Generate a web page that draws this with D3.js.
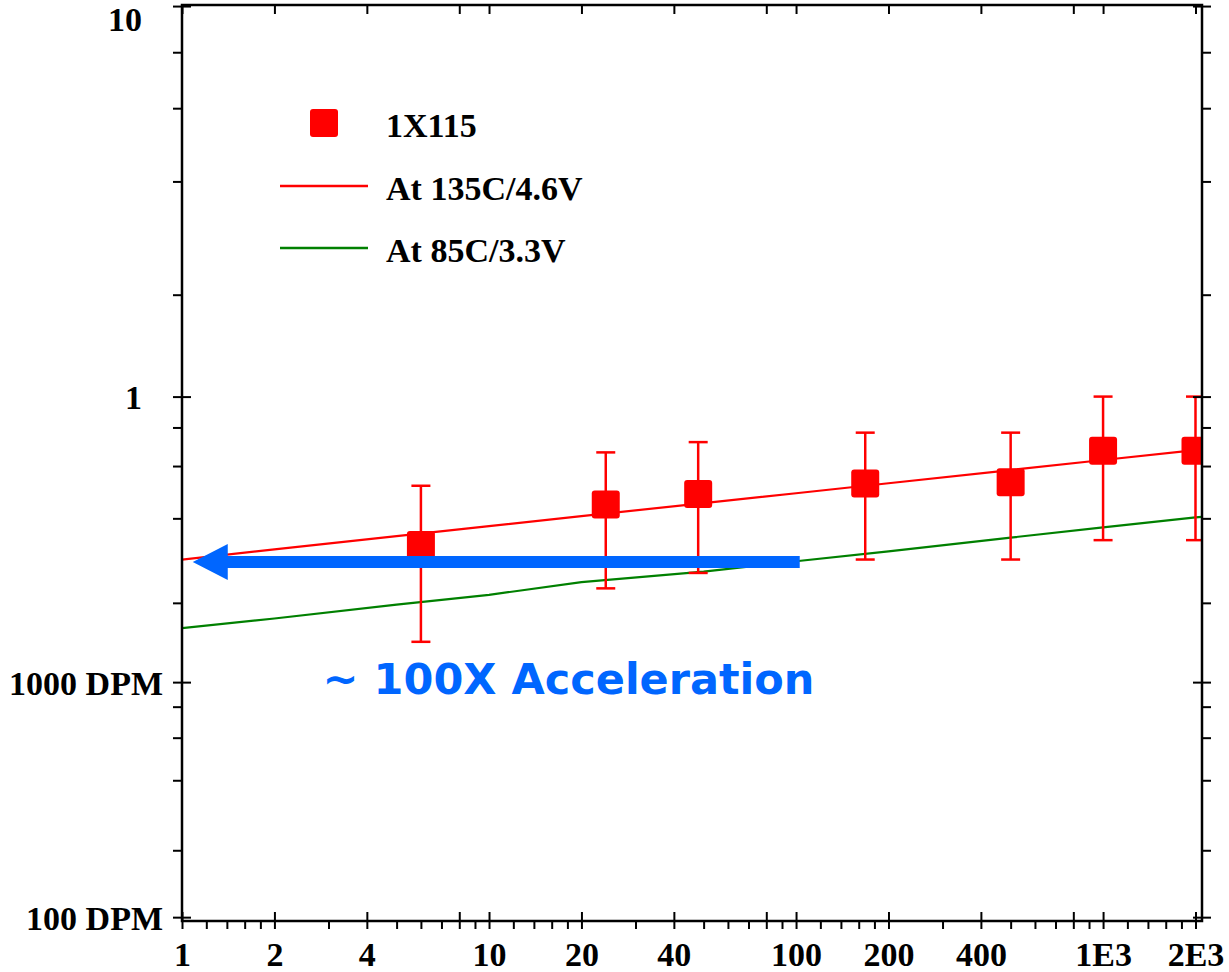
<!DOCTYPE html>
<html>
<head>
<meta charset="utf-8">
<script src="https://cdn.jsdelivr.net/npm/d3@7"></script>
<style>
  body { margin: 0; background: #fff; }
  svg { display: block; }
</style>
</head>
<body>
<script>
const w = 1229;
const h = 972;

// read points (hours, cumulative % fail)
const hours = [6, 24, 48, 168, 500, 1000, 2000];
const pctFail = [0.323, 0.446, 0.484, 0.525, 0.53, 0.673, 0.673];
const pctUpper = [0.516, 0.665, 0.718, 0.77, 0.77, 1.0, 1.0];
const pctLower = [0.143, 0.226, 0.257, 0.287, 0.287, 0.336, 0.336];

// fitted lognormal lines
const fitHours = [1, 2, 5, 10, 20, 50, 100, 200, 500, 1000, 2000, 2100];
const fit135 = [0.287, 0.312, 0.347, 0.376, 0.407, 0.451, 0.487, 0.526, 0.582, 0.628, 0.676, 0.68];
const fit85 = [0.161, 0.175, 0.197, 0.214, 0.238, 0.26, 0.283, 0.307, 0.343, 0.372, 0.403, 0.405];

// axes
const xMajor = [1, 2, 4, 8, 10, 20, 40, 80, 100, 200, 400, 800, 1000, 2000];
const xMinor = [1.2, 1.4, 1.6, 1.8, 3, 5, 6, 7, 9, 12, 14, 16, 18, 30, 50, 60, 70, 90,
  120, 140, 160, 180, 300, 500, 600, 700, 900, 1200, 1400, 1600, 1800];
const xLabelTicks = [1, 2, 4, 10, 20, 40, 100, 200, 400, 1000, 2000];
const xLabels = ["1", "2", "4", "10", "20", "40", "100", "200", "400", "1E3", "2E3"];
const yLabelTicks = [10, 1, 0.1, 0.01];
const yLabels = ["10", "1", "1000 DPM", "100 DPM"];
const yMinor = [8, 6, 4, 2, 0.8, 0.6, 0.4, 0.2, 0.08, 0.06, 0.04, 0.02];

const legendNames = ["1X115", "At 135C/4.6V", "At 85C/3.3V"];
const arrowHours = [102.8, 1.084];
const arrowPct = 0.281;
const noteText = "~ 100X Acceleration";
const notePos = [2.87, 0.09];

// inverse normal cdf (Acklam)
function probit(p) {
  const a = [-3.969683028665376e+01, 2.209460984245205e+02, -2.759285104469687e+02,
    1.383577518672690e+02, -3.066479806614716e+01, 2.506628277459239e+00];
  const b = [-5.447609879822406e+01, 1.615858368580409e+02, -1.556989798598866e+02,
    6.680131188771972e+01, -1.328068155288572e+01];
  const c = [-7.784894002430293e-03, -3.223964580411365e-01, -2.400758277161838e+00,
    -2.549732539343734e+00, 4.374664141464968e+00, 2.938163982698783e+00];
  const d = [7.784695709041462e-03, 3.224671290700398e-01, 2.445134137142996e+00,
    3.754408661907416e+00];
  const pl = 0.02425;
  if (p < pl) {
    const q = Math.sqrt(-2 * Math.log(p));
    return (((((c[0] * q + c[1]) * q + c[2]) * q + c[3]) * q + c[4]) * q + c[5]) /
      ((((d[0] * q + d[1]) * q + d[2]) * q + d[3]) * q + 1);
  }
  if (p <= 1 - pl) {
    const q = p - 0.5, r = q * q;
    return (((((a[0] * r + a[1]) * r + a[2]) * r + a[3]) * r + a[4]) * r + a[5]) * q /
      (((((b[0] * r + b[1]) * r + b[2]) * r + b[3]) * r + b[4]) * r + 1);
  }
  const q = Math.sqrt(-2 * Math.log(1 - p));
  return -(((((c[0] * q + c[1]) * q + c[2]) * q + c[3]) * q + c[4]) * q + c[5]) /
    ((((d[0] * q + d[1]) * q + d[2]) * q + d[3]) * q + 1);
}
const z = pct => probit(pct / 100);

const pLeft = 182, pRight = 1202, pTop = 5, pBottom = 921;

const xScale = d3.scaleLog().domain([1, 2100]).range([pLeft, pRight]);
const zScale = d3.scaleLinear().domain([z(0.0096), z(10.05)]).range([pBottom, pTop]);
const yScale = pct => zScale(z(pct));

const svg = d3.select("body").append("svg")
  .attr("width", w)
  .attr("height", h)
  .style("background", "#fff");

svg.append("defs").append("clipPath").attr("id", "plot")
  .append("rect")
  .attr("x", pLeft).attr("y", pTop)
  .attr("width", pRight - pLeft).attr("height", pBottom - pTop);

const plot = svg.append("g").attr("clip-path", "url(#plot)");

const line = d3.line().x(d => xScale(d[0])).y(d => yScale(d[1]));

plot.append("path")
  .datum(fitHours.map((t, i) => [t, fit135[i]]))
  .attr("d", line)
  .attr("fill", "none")
  .attr("stroke", "#ff0000")
  .attr("stroke-width", 2.2);

plot.append("path")
  .datum(fitHours.map((t, i) => [t, fit85[i]]))
  .attr("d", line)
  .attr("fill", "none")
  .attr("stroke", "#008000")
  .attr("stroke-width", 2.2);

// error bars
const bars = plot.selectAll(".err").data(hours).enter().append("g").attr("class", "err")
  .attr("stroke", "#ff0000")
  .attr("stroke-width", 2.5);
bars.append("line")
  .attr("x1", d => xScale(d)).attr("x2", d => xScale(d))
  .attr("y1", (d, i) => yScale(pctUpper[i]))
  .attr("y2", (d, i) => yScale(pctLower[i]));
bars.append("line")
  .attr("x1", d => xScale(d) - 9.5).attr("x2", d => xScale(d) + 9.5)
  .attr("y1", (d, i) => yScale(pctUpper[i]))
  .attr("y2", (d, i) => yScale(pctUpper[i]));
bars.append("line")
  .attr("x1", d => xScale(d) - 9.5).attr("x2", d => xScale(d) + 9.5)
  .attr("y1", (d, i) => yScale(pctLower[i]))
  .attr("y2", (d, i) => yScale(pctLower[i]));

const sq = 28;
plot.selectAll(".pt").data(hours).enter().append("rect")
  .attr("class", "pt")
  .attr("x", d => xScale(d) - sq / 2)
  .attr("y", (d, i) => yScale(pctFail[i]) - sq / 2)
  .attr("width", sq)
  .attr("height", sq)
  .attr("rx", 3)
  .attr("fill", "#ff0000");

// blue arrow
const ax0 = xScale(arrowHours[0]), ax1 = xScale(arrowHours[1]), ay = yScale(arrowPct);
const headLen = 35, headHalf = 18, shaftHalf = 6;
svg.append("path")
  .attr("d", `M${ax0},${ay - shaftHalf} L${ax1 + headLen},${ay - shaftHalf} L${ax1 + headLen},${ay - headHalf}
    L${ax1},${ay} L${ax1 + headLen},${ay + headHalf} L${ax1 + headLen},${ay + shaftHalf} L${ax0},${ay + shaftHalf} Z`)
  .attr("fill", "#0066ff");

svg.append("text")
  .attr("x", xScale(notePos[0]))
  .attr("y", yScale(notePos[1]))
  .attr("fill", "#0066ff")
  .style("font-family", "'DejaVu Sans', Verdana, sans-serif")
  .style("font-weight", "bold")
  .style("font-size", "43px")
  .text(noteText);

// legend
const lg = svg.append("g");
lg.append("rect").attr("x", 310).attr("y", 109).attr("width", sq).attr("height", sq)
  .attr("rx", 3).attr("fill", "#ff0000");
lg.append("line").attr("x1", 280).attr("x2", 368).attr("y1", 186).attr("y2", 186)
  .attr("stroke", "#ff0000").attr("stroke-width", 2.5);
lg.append("line").attr("x1", 280).attr("x2", 368).attr("y1", 248).attr("y2", 248)
  .attr("stroke", "#008000").attr("stroke-width", 2.5);
lg.selectAll("text").data(legendNames).enter().append("text")
  .attr("x", 386)
  .attr("y", (d, i) => [137, 200, 262][i])
  .style("font-family", "'Liberation Serif', serif")
  .style("font-weight", "bold")
  .style("font-size", "34px")
  .text(d => d);

// axes
const fontStyle = g => g.style("font-family", "'Liberation Serif', serif")
  .style("font-weight", "bold").style("font-size", "34px");
const clean = g => { g.select(".domain").remove(); g.selectAll("line").attr("stroke-width", 2); };

// bottom
svg.append("g").attr("transform", `translate(0,${pBottom})`)
  .call(d3.axisBottom(xScale).tickValues(xMinor).tickSize(8).tickFormat(""))
  .call(clean);
svg.append("g").attr("transform", `translate(0,${pBottom})`)
  .call(d3.axisBottom(xScale).tickValues(xMajor).tickSize(8).tickFormat(""))
  .call(clean);
svg.append("g").attr("transform", `translate(0,${pBottom})`)
  .call(d3.axisBottom(xScale).tickValues(xMajor).tickSize(-9).tickFormat(""))
  .call(clean);
svg.append("g").attr("transform", `translate(0,${pBottom})`)
  .call(d3.axisBottom(xScale).tickValues(xLabelTicks).tickSize(0).tickFormat((d, i) => xLabels[i]))
  .call(clean)
  .call(fontStyle)
  .call(g => g.selectAll("text").attr("y", 21).attr("fill", "#000"));

// top
svg.append("g").attr("transform", `translate(0,${pTop})`)
  .call(d3.axisTop(xScale).tickValues(xMajor).tickSize(-9).tickFormat(""))
  .call(clean);

// left
const yMajorZ = yLabelTicks.map(z);
const yMinorZ = yMinor.map(z);
svg.append("g").attr("transform", `translate(${pLeft},0)`)
  .call(d3.axisLeft(zScale).tickValues(yMinorZ).tickSize(9).tickFormat(""))
  .call(clean);
svg.append("g").attr("transform", `translate(${pLeft},0)`)
  .call(d3.axisLeft(zScale).tickValues(yMajorZ).tickSize(9).tickFormat((d, i) => yLabels[i]))
  .call(clean)
  .call(fontStyle)
  .call(g => g.selectAll("text")
    .attr("x", (d, i) => yLabels[i].includes("DPM") ? -19 : -40)
    .attr("dy", d => zScale(d) < 15 ? "0.72em" : "0.35em")
    .attr("fill", "#000"));
svg.append("g").attr("transform", `translate(${pLeft},0)`)
  .call(d3.axisLeft(zScale).tickValues(yMajorZ).tickSize(-9).tickFormat(""))
  .call(clean);

// right
svg.append("g").attr("transform", `translate(${pRight},0)`)
  .call(d3.axisRight(zScale).tickValues(yMinorZ.concat(yMajorZ)).tickSize(9).tickFormat(""))
  .call(clean);
svg.append("g").attr("transform", `translate(${pRight},0)`)
  .call(d3.axisRight(zScale).tickValues(yMajorZ).tickSize(-9).tickFormat(""))
  .call(clean);

// frame
svg.append("rect")
  .attr("x", pLeft).attr("y", pTop)
  .attr("width", pRight - pLeft).attr("height", pBottom - pTop)
  .attr("fill", "none")
  .attr("stroke", "#000")
  .attr("stroke-width", 2.5);
</script>
</body>
</html>
